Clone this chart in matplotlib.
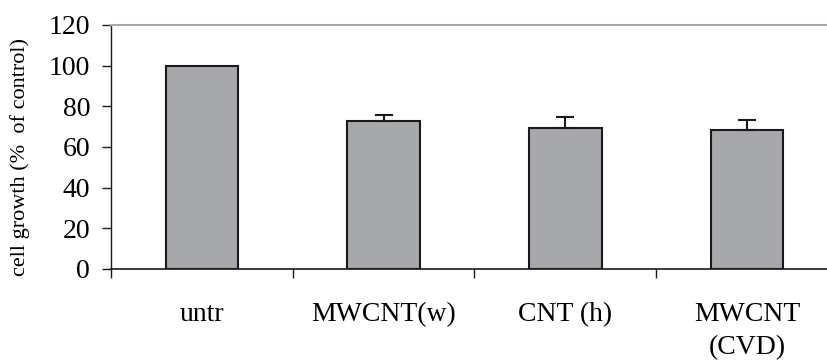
import matplotlib
matplotlib.use("Agg")
import matplotlib.pyplot as plt
import numpy as np

categories = ["untr", "MWCNT(w)", "CNT (h)", "MWCNT\n(CVD)"]
values = [100, 73, 69.5, 68.5]
errors = [0, 2.7, 5.3, 4.6]
yticks = [0, 20, 40, 60, 80, 100, 120]

plt.rcParams['font.family'] = ['Liberation Serif', 'DejaVu Serif']

fig = plt.figure(figsize=(8.27, 3.63), dpi=100)
ax = fig.add_axes([111/827, 94/363, 727/827, 244/363])

x = np.arange(len(categories))
ax.bar(x, values, width=0.40, color="#a7a8ac", edgecolor="#1a1a1a", linewidth=1.5, zorder=2)
err_idx = [i for i, e in enumerate(errors) if e > 0]
ax.errorbar(x[err_idx], [values[i] for i in err_idx],
            yerr=[[0]*len(err_idx), [errors[i] for i in err_idx]],
            fmt="none", ecolor="#1a1a1a", elinewidth=1.5, capsize=6.5, capthick=1.5, zorder=3)

ax.set_xlim(-0.5, 3.5)
ax.set_ylim(0, 120)
ax.set_yticks(yticks)
ax.set_yticklabels([str(t) for t in yticks], fontsize=20)
ax.tick_params(axis='y', direction='out', length=6.5, width=1.0, color="#1a1a1a", pad=8.5)

ax.set_xticks([-0.5, 0.5, 1.5, 2.5])
ax.set_xticklabels([])
ax.tick_params(axis='x', which='major', direction='out', length=6.5, width=1.0, color="#1a1a1a")
ax.set_xticks(x, minor=True)
ax.set_xticklabels(categories, minor=True, fontsize=20, linespacing=1.4)
ax.tick_params(axis='x', which='minor', length=0, pad=24)
for lbl in ax.get_xticklabels(minor=True):
    lbl.set_verticalalignment('top')

ax.spines['right'].set_visible(False)
ax.spines['top'].set_color("#a8a8a8")
ax.spines['top'].set_linewidth(1.5)
ax.spines['left'].set_color("#1a1a1a")
ax.spines['left'].set_linewidth(1.0)
ax.spines['bottom'].set_color("#1a1a1a")
ax.spines['bottom'].set_linewidth(1.2)

ax.set_ylabel("cell growth (%  of control)", fontsize=16)
ax.yaxis.set_label_coords(-(111-30)/727, 0.457)

fig.savefig("out.png", dpi=100)
